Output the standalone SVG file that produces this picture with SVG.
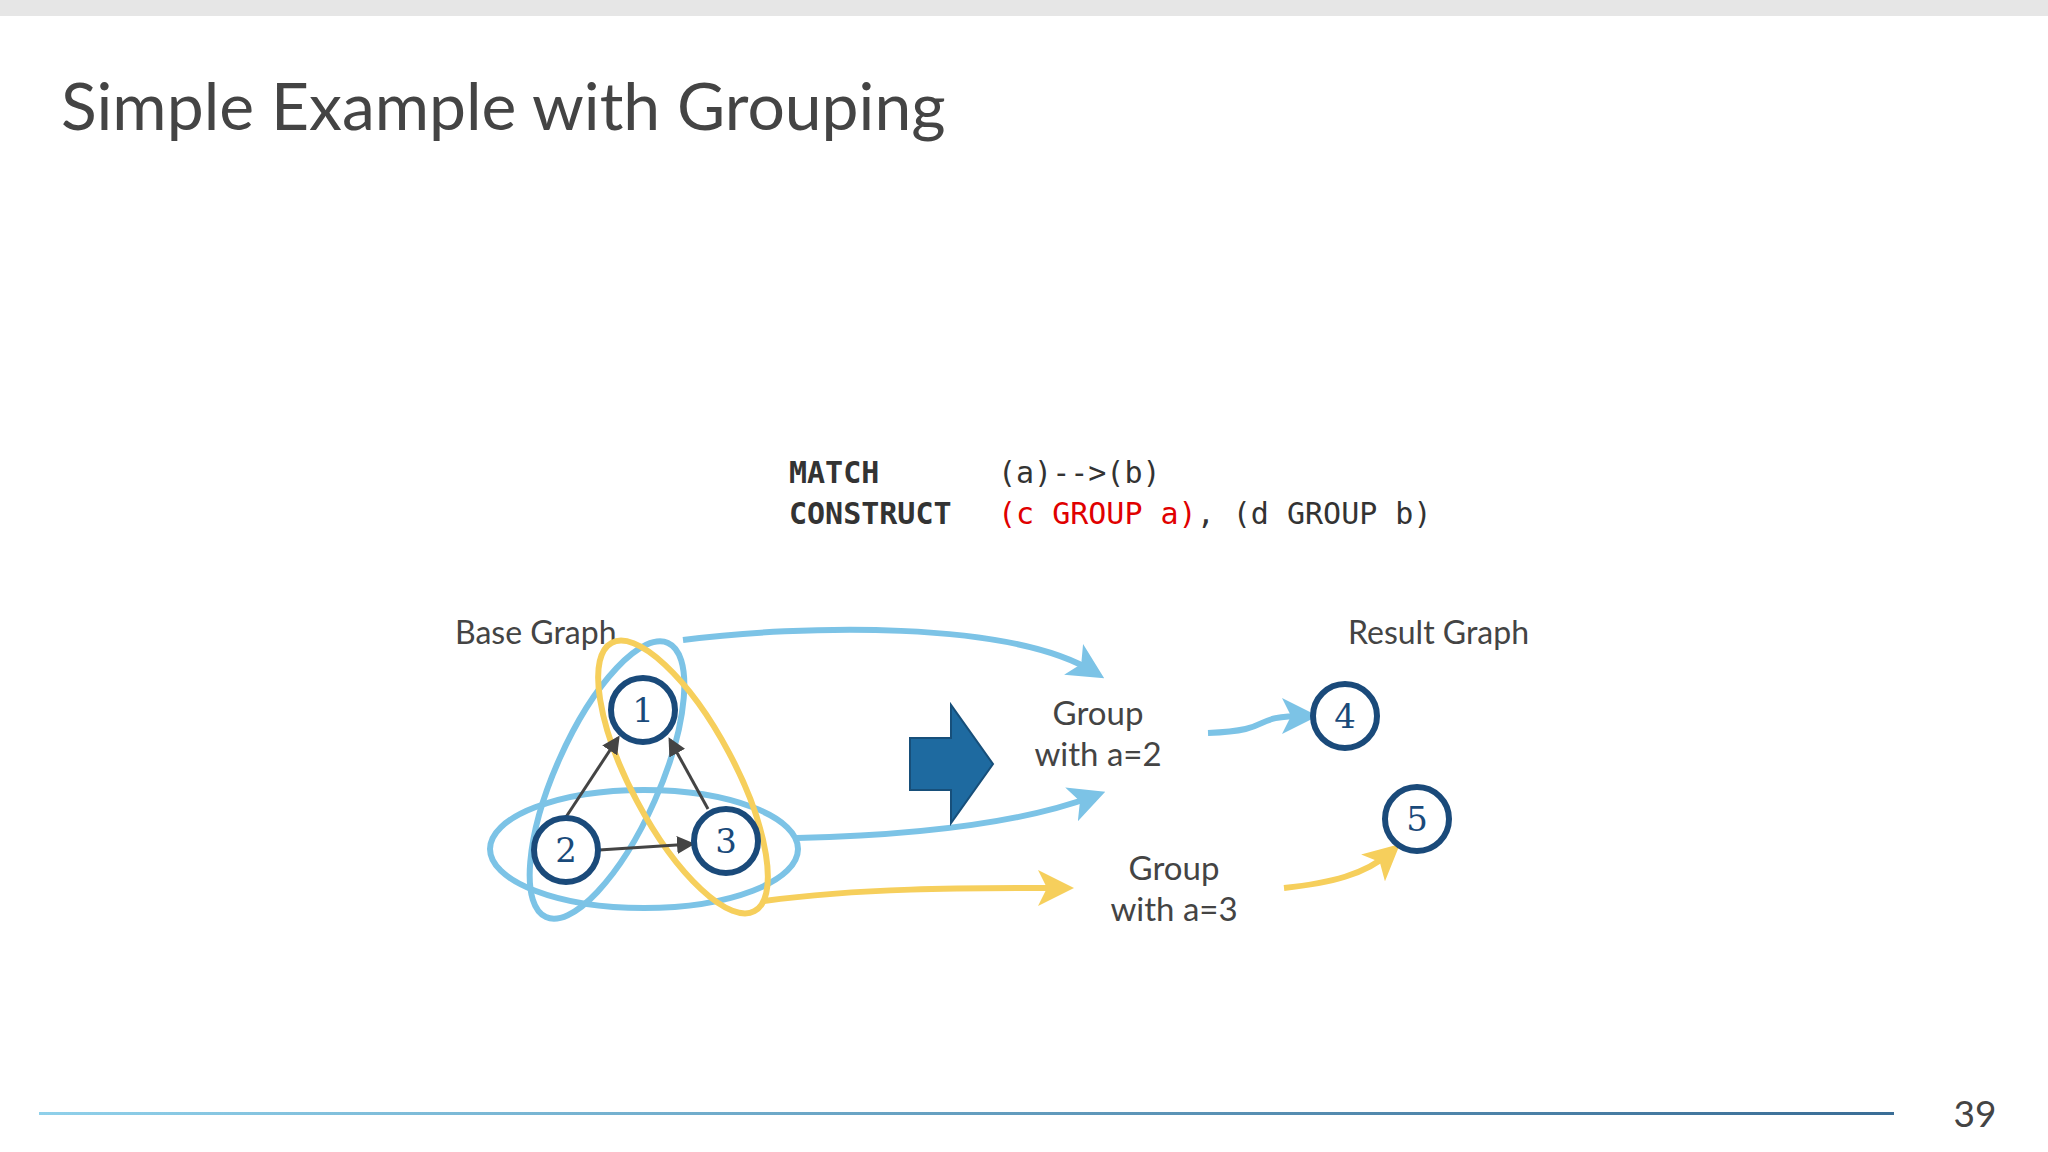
<svg xmlns="http://www.w3.org/2000/svg" width="2048" height="1152" viewBox="0 0 2048 1152">
<style>
.t{font-family:Lato,"Noto Sans",sans-serif;fill:#444}
.c{font-family:"DejaVu Sans Mono","Liberation Mono",monospace;font-size:30px;fill:#333}
.n circle{fill:#fff;stroke:#1a4a7a;stroke-width:6}
.n text{font-family:"DejaVu Serif","Liberation Serif",serif;font-size:34px;fill:#1a4a7a;text-anchor:middle}
.bl{fill:none;stroke:#7cc3e6;stroke-width:6}
.yl{fill:none;stroke:#f6cf5c;stroke-width:6}
.e{stroke:#444;stroke-width:3;fill:none}
</style>
<defs>
<linearGradient id="g" x1="0" x2="1"><stop offset="0" stop-color="#8fd0ea"/><stop offset="1" stop-color="#3a6d96"/></linearGradient>
<marker id="ab" markerWidth="6" markerHeight="6" refX="4" refY="3" orient="auto"><path d="M0,0L6,3L0,6L1.5,3z" fill="#7cc3e6"/></marker>
<marker id="ay" markerWidth="6" markerHeight="6" refX="4" refY="3" orient="auto"><path d="M0,0L6,3L0,6L1.5,3z" fill="#f6cf5c"/></marker>
<marker id="ak" markerWidth="6" markerHeight="6" refX="5" refY="3" orient="auto"><path d="M0,0L6,3L0,6z" fill="#444"/></marker>
</defs>
<rect width="2048" height="1152" fill="#fff"/>
<rect width="2048" height="16" fill="#e6e6e6"/>
<text class="t" x="61" y="130" font-size="66">Simple Example with Grouping</text>
<text class="c" x="789" y="483" font-weight="bold">MATCH</text>
<text class="c" x="998" y="483">(a)--&gt;(b)</text>
<text class="c" x="789" y="524" font-weight="bold">CONSTRUCT</text>
<text class="c" x="998" y="524"><tspan fill="#e00000">(c GROUP a)</tspan>, (d GROUP b)</text>
<text class="t" x="455" y="644" font-size="32">Base Graph</text>
<text class="t" x="1348" y="644" font-size="32">Result Graph</text>
<g id="groups">
<ellipse class="bl" cx="644" cy="849" rx="154" ry="59"/>
<ellipse class="bl" cx="607" cy="780" rx="150" ry="52" transform="rotate(-66 607 780)"/>
<ellipse class="yl" cx="683" cy="777" rx="152" ry="52" transform="rotate(62 683 777)"/>
</g>
<g id="connectors">
<path class="e" d="M566,817L618,738" marker-end="url(#ak)"/>
<path class="e" d="M708,809L670,740" marker-end="url(#ak)"/>
<path class="e" d="M599,850L692,844" marker-end="url(#ak)"/>
<path class="bl" d="M683,640C800,625 1010,620 1094,672" marker-end="url(#ab)"/>
<path class="bl" d="M797,838C930,835 1030,820 1094,796" marker-end="url(#ab)"/>
<path class="yl" d="M764,901C860,888 960,888 1062,888" marker-end="url(#ay)"/>
<path class="bl" d="M1208,733C1280,730 1245,716 1306,716" marker-end="url(#ab)"/>
<path class="yl" d="M1284,888C1330,883 1365,875 1391,852" marker-end="url(#ay)"/>
</g>
<g id="n1" class="n"><circle cx="643" cy="710" r="32"/><text x="643" y="722">1</text></g>
<g id="n2" class="n"><circle cx="566" cy="850" r="32"/><text x="566" y="862">2</text></g>
<g id="n3" class="n"><circle cx="726" cy="841" r="32"/><text x="726" y="853">3</text></g>
<g id="n4" class="n"><circle cx="1345" cy="716" r="32"/><text x="1345" y="728">4</text></g>
<g id="n5" class="n"><circle cx="1417" cy="819" r="32"/><text x="1417" y="831">5</text></g>
<path id="bigarrow" d="M910,738H951V705L993,764L951,823V790H910z" fill="#1e6aa0" stroke="#174f7a" stroke-width="2"/>
<g id="g2"><text class="t" font-size="33" text-anchor="middle" x="1098" y="725">Group</text><text class="t" font-size="33" text-anchor="middle" x="1098" y="766">with a=2</text></g>
<g id="g3"><text class="t" font-size="33" text-anchor="middle" x="1174" y="880">Group</text><text class="t" font-size="33" text-anchor="middle" x="1174" y="921">with a=3</text></g>
<rect x="39" y="1112" width="1855" height="3" fill="url(#g)"/>
<text class="t" x="1975" y="1127" font-size="37" text-anchor="middle">39</text>
</svg>
